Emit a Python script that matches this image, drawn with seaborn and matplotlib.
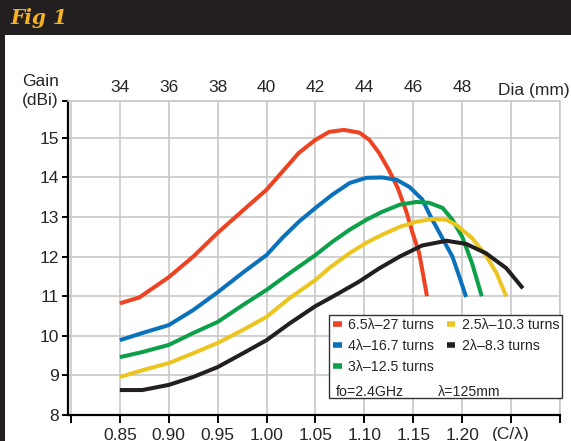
import numpy as np
import pandas as pd
import matplotlib
matplotlib.use("Agg")
import matplotlib.pyplot as plt
import seaborn as sns
from matplotlib.lines import Line2D
from matplotlib.patches import Rectangle

# ---------------- data ----------------
series_names = ["6.5λ–27 turns", "4λ–16.7 turns", "3λ–12.5 turns",
                "2.5λ–10.3 turns", "2λ–8.3 turns"]
colors = ["#ee4323", "#0a72ba", "#0ca04b", "#ecc520", "#231f20"]

red_x = [0.85, 0.87, 0.90, 0.925, 0.95, 0.982, 1.00, 1.016, 1.033, 1.05, 1.064, 1.079,
         1.095, 1.105, 1.115, 1.125, 1.134, 1.143, 1.149, 1.156, 1.160, 1.164]
red_y = [10.82, 10.97, 11.48, 12.00, 12.60, 13.30, 13.69, 14.14, 14.62, 14.95, 15.15, 15.20,
         15.13, 14.95, 14.62, 14.19, 13.74, 13.13, 12.62, 12.09, 11.55, 11.00]

blue_x = [0.85, 0.873, 0.90, 0.925, 0.95, 0.976, 1.00, 1.016, 1.033, 1.05, 1.067, 1.085,
          1.102, 1.118, 1.133, 1.146, 1.159, 1.168, 1.179, 1.190, 1.197, 1.204]
blue_y = [9.89, 10.07, 10.27, 10.65, 11.10, 11.60, 12.04, 12.47, 12.88, 13.23, 13.56, 13.86,
          13.99, 14.00, 13.94, 13.76, 13.45, 13.00, 12.50, 12.00, 11.50, 10.98]

green_x = [0.85, 0.873, 0.90, 0.925, 0.95, 0.976, 1.00, 1.024, 1.05, 1.067, 1.085, 1.102,
           1.118, 1.136, 1.153, 1.166, 1.180, 1.190, 1.200, 1.210, 1.220]
green_y = [9.46, 9.59, 9.77, 10.07, 10.35, 10.78, 11.16, 11.59, 12.04, 12.37, 12.68, 12.93,
           13.13, 13.31, 13.38, 13.36, 13.23, 12.93, 12.50, 11.84, 11.00]

yellow_x = [0.85, 0.873, 0.90, 0.925, 0.95, 0.976, 1.00, 1.024, 1.05, 1.064, 1.085, 1.102,
            1.118, 1.136, 1.153, 1.169, 1.184, 1.194, 1.210, 1.224, 1.235, 1.245]
yellow_y = [8.96, 9.13, 9.31, 9.56, 9.82, 10.15, 10.48, 10.96, 11.41, 11.71, 12.09, 12.35,
            12.55, 12.75, 12.88, 12.95, 12.93, 12.80, 12.47, 12.04, 11.59, 11.00]

black_x = [0.85, 0.873, 0.90, 0.925, 0.95, 0.976, 1.00, 1.024, 1.05, 1.072, 1.094, 1.115,
           1.136, 1.159, 1.184, 1.204, 1.224, 1.245, 1.262]
black_y = [8.63, 8.63, 8.76, 8.96, 9.21, 9.56, 9.89, 10.32, 10.75, 11.05, 11.36, 11.70,
           12.00, 12.28, 12.40, 12.32, 12.09, 11.71, 11.20]

ratio_ticks = [0.80, 0.85, 0.90, 0.95, 1.00, 1.05, 1.10, 1.15, 1.20, 1.25, 1.30]
ratio_labels = ["", "0.85", "0.90", "0.95", "1.00", "1.05", "1.10", "1.15", "1.20",
                "(C/λ)", ""]
dia_ticks = [0.85, 0.90, 0.95, 1.00, 1.05, 1.10, 1.15, 1.20]
dia_labels = ["34", "36", "38", "40", "42", "44", "46", "48"]
gain_ticks = [8, 9, 10, 11, 12, 13, 14, 15]
y_top = 15.93

frames = []
for name, xs, ys in zip(series_names,
                        [red_x, blue_x, green_x, yellow_x, black_x],
                        [red_y, blue_y, green_y, yellow_y, black_y]):
    frames.append(pd.DataFrame({"ratio": xs, "gain": ys, "series": name}))
df = pd.concat(frames, ignore_index=True)

# ---------------- style ----------------
sns.set_style("white")
plt.rcParams["font.family"] = ["Liberation Sans", "DejaVu Sans"]

W, H = 571, 441
fig = plt.figure(figsize=(W / 100, H / 100), dpi=100)
fig.patch.set_facecolor("white")

# dark title bar and left border
fig.patches.append(Rectangle((0, 1 - 35 / H), 1, 35 / H, transform=fig.transFigure,
                             facecolor="#231f20", edgecolor="none", zorder=0))
fig.patches.append(Rectangle((0, 0), 5 / W, 1, transform=fig.transFigure,
                             facecolor="#231f20", edgecolor="none", zorder=0))
fig.text(10 / W, 1 - 18 / H, "Fig 1", color="#f5b324", fontsize=14.5,
         family=["DejaVu Serif"], weight="bold", style="italic",
         ha="left", va="center")

ax_l, ax_r, ax_t, ax_b = 68, 560, 101, 415
ax = fig.add_axes([ax_l / W, 1 - ax_b / H, (ax_r - ax_l) / W, (ax_b - ax_t) / H])

sns.lineplot(data=df, x="ratio", y="gain", hue="series", hue_order=series_names,
             palette=colors, sort=False, estimator=None, legend=False,
             linewidth=2.9, ax=ax, zorder=3)
for ln in ax.get_lines():
    ln.set_solid_capstyle("butt")
    ln.set_solid_joinstyle("round")

ax.set_xlim(0.797, 1.30)
ax.set_ylim(8, y_top)
ax.set_xticks(ratio_ticks, labels=ratio_labels)
ax.set_yticks(gain_ticks + [y_top], labels=[str(v) for v in gain_ticks] + [""])
ax.set_xlabel("")
ax.set_ylabel("")

grid_c = "#c8c8c8"
ax.grid(True, color=grid_c, linewidth=1.2, zorder=1)
ax.set_axisbelow(True)
for s in ["top", "right"]:
    ax.spines[s].set_color(grid_c)
    ax.spines[s].set_linewidth(1.2)
for s in ["left", "bottom"]:
    ax.spines[s].set_color("black")
    ax.spines[s].set_linewidth(1.6)

ax.tick_params(axis="x", direction="out", length=6, width=1.4, color="black",
               pad=3, labelsize=12.5, bottom=True)
ax.tick_params(axis="y", direction="out", length=4.5, width=1.4, color="black",
               pad=2, labelsize=12.5, left=True)

sec = ax.secondary_xaxis("top")
sec.set_xticks(dia_ticks, labels=dia_labels)
sec.tick_params(length=0, pad=4, labelsize=12.5)
sec.spines["top"].set_visible(False)

fig.text(498 / W, 1 - 90 / H, "Dia (mm)", fontsize=12.5, ha="left", va="center")
fig.text(22 / W, 1 - 82 / H, "Gain", fontsize=12.5, ha="left", va="center")
fig.text(22 / W, 1 - 101 / H, "(dBi)", fontsize=12.5, ha="left", va="center")

# legend box
aw, ah = ax_r - ax_l, ax_b - ax_t
def axf(px, py):
    return ((px - ax_l) / aw, (ax_b - py) / ah)

bx0, by0 = axf(329, 398)
bx1, by1 = axf(562, 315)
ax.add_patch(Rectangle((bx0, by0), bx1 - bx0, by1 - by0, transform=ax.transAxes,
                       facecolor="white", edgecolor="#333333", linewidth=1.0,
                       clip_on=False, zorder=5))
handles = [Line2D([0], [0], color=c, lw=4, solid_capstyle="butt") for c in colors]
leg = ax.legend(handles, series_names, loc="upper left",
                bbox_to_anchor=axf(333, 318), ncol=2, frameon=False,
                fontsize=10.2, handlelength=0.6, handletextpad=0.45,
                columnspacing=0.9, labelspacing=0.5, borderpad=0,
                borderaxespad=0)
leg.set_zorder(6)
nx, ny = axf(336, 392)
ax.text(nx, ny, "fo=2.4GHz", transform=ax.transAxes, fontsize=10.2,
        ha="left", va="center", zorder=7)
nx2, _ = axf(438, 392)
ax.text(nx2, ny, "λ=125mm", transform=ax.transAxes, fontsize=10.2,
        ha="left", va="center", zorder=7)

fig.savefig("out.png", dpi=100)
